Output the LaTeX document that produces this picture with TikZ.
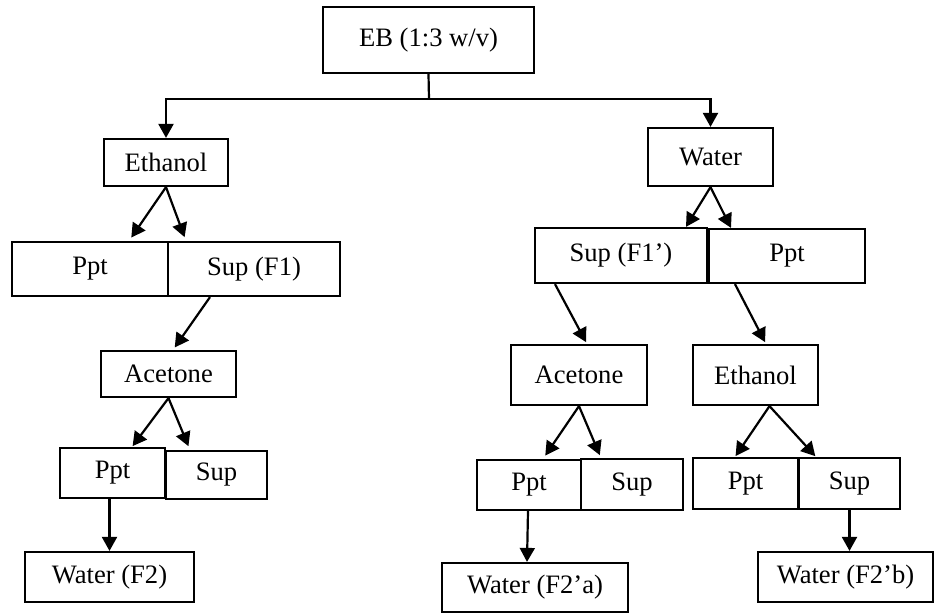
\documentclass[tikz,border=0pt]{standalone}
\usepackage{fontspec}
\setmainfont{Liberation Serif}
\usetikzlibrary{arrows.meta}
\begin{document}
\begin{tikzpicture}[x=1pt,y=-1pt,
  box/.style={draw,line width=2.2pt,rectangle,inner sep=0pt,align=center,
    font=\fontsize{26.6}{30}\selectfont},
  arr/.style={line width=2.2pt,-{Triangle[length=14pt,width=15pt]}},
  ln/.style={line width=2.2pt}]
\useasboundingbox (0,0) rectangle (935,613);
% nodes
\node[box,minimum width=211pt,minimum height=66pt] (eb) at (428.5,40) {EB (1:3 w/v)};
\node[box,minimum width=124pt,minimum height=47pt] (eth1) at (166,162.5) {Ethanol};
\node[box,minimum width=125pt,minimum height=58pt] (wat1) at (710.5,157) {Water};
\node[box,minimum width=156pt,minimum height=54pt] (ppt1) at (90,269) {Ppt};
\node[box,minimum width=172pt,minimum height=54pt] (sup1) at (254,269) {Sup (F1)};
\node[box,minimum width=172pt,minimum height=55pt] (sup1p) at (621,255.5) {Sup (F1’)};
\node[box,minimum width=156pt,minimum height=54pt] (ppt1p) at (787,256) {Ppt};
\node[box,minimum width=135pt,minimum height=46pt] (ace1) at (168.5,374) {Acetone};
\node[box,minimum width=105pt,minimum height=50pt] (ppt2) at (112.5,473) {Ppt};
\node[box,minimum width=101pt,minimum height=48pt] (sup2) at (216.5,475) {Sup};
\node[box,minimum width=169pt,minimum height=50pt] (wat2) at (109.5,577) {Water (F2)};
\node[box,minimum width=136pt,minimum height=60pt] (ace2) at (579,375) {Acetone};
\node[box,minimum width=125pt,minimum height=60pt] (eth2) at (755.5,375) {Ethanol};
\node[box,minimum width=104pt,minimum height=50pt] (ppt3) at (529,485) {Ppt};
\node[box,minimum width=102pt,minimum height=51pt] (sup3) at (632,484.5) {Sup};
\node[box,minimum width=105pt,minimum height=51pt] (ppt4) at (745.5,483.5) {Ppt};
\node[box,minimum width=101pt,minimum height=51pt] (sup4) at (849.5,483.5) {Sup};
\node[box,minimum width=186pt,minimum height=49pt] (wat3) at (535,587.5) {Water (F2’a)};
\node[box,minimum width=175pt,minimum height=50pt] (wat4) at (845.5,577) {Water (F2’b)};
% connectors
\coordinate (j) at (429,99);
\draw[ln] (eb.south) -- (j);
\draw[arr] (j) -| (eth1.north);
\draw[arr] (j) -| (wat1.north);
\draw[arr,shorten >=4pt] (eth1.south) -- ([xshift=39pt]ppt1.north);
\draw[arr,shorten >=4pt] (eth1.south) -- ([xshift=-68pt]sup1.north);
\draw[arr] (wat1.south) -- ([xshift=65pt]sup1p.north);
\draw[arr] (wat1.south) -- ([xshift=-56pt]ppt1p.north);
\draw[arr,shorten >=3pt] ([xshift=-44pt]sup1.south) -- ([xshift=4.5pt]ace1.north);
\draw[arr,shorten >=1pt] (ace1.south) -- ([xshift=19.5pt]ppt2.north);
\draw[arr,shorten >=4pt] (ace1.south) -- ([xshift=-26.5pt]sup2.north);
\draw[arr] (ppt2.south -| wat2.north) -- (wat2.north);
\draw[arr,shorten >=2pt] ([xshift=-66pt]sup1p.south) -- ([xshift=8pt]ace2.north);
\draw[arr,shorten >=2pt] ([xshift=-52pt]ppt1p.south) -- ([xshift=10.5pt]eth2.north);
\draw[arr,shorten >=4pt] (ace2.south) -- ([xshift=14pt]ppt3.north);
\draw[arr,shorten >=3pt] (ace2.south) -- ([xshift=-31pt]sup3.north);
\draw[arr,shorten >=1pt] ([xshift=14pt]eth2.south) -- ([xshift=-10.5pt]ppt4.north);
\draw[arr,shorten >=1pt] ([xshift=14pt]eth2.south) -- ([xshift=-33.5pt]sup4.north);
\draw[arr] ([xshift=-1pt]ppt3.south) -- ([xshift=-8pt]wat3.north);
\draw[arr] (sup4.south) -- (sup4.south |- wat4.north);
\end{tikzpicture}
\end{document}
